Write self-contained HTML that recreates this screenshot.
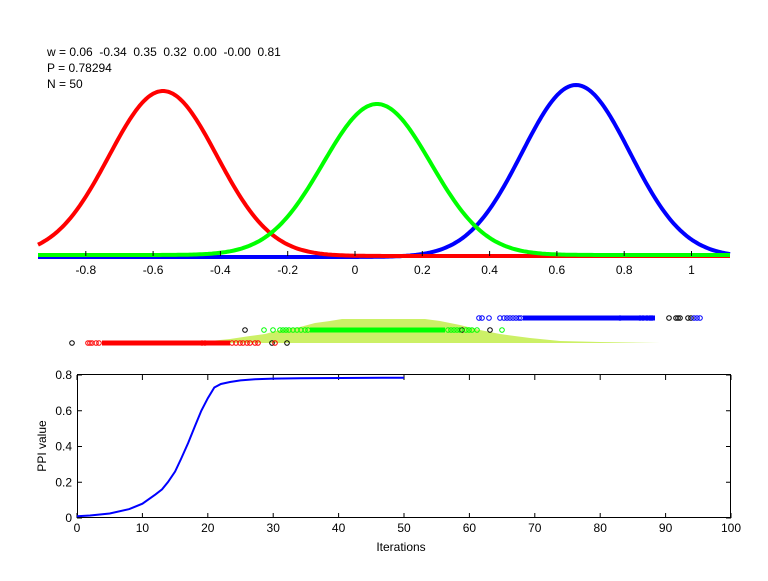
<!DOCTYPE html>
<html><head><meta charset="utf-8"><style>
body{margin:0;background:#fff;width:768px;height:576px;overflow:hidden}
svg text{font-family:"Liberation Sans",sans-serif;font-size:12px;fill:#000;white-space:pre}
</style></head><body>
<svg id="s" width="768" height="576" xmlns="http://www.w3.org/2000/svg">
<rect width="768" height="576" fill="#fff"/>
<text x="47" y="56">w = 0.06  -0.34  0.35  0.32  0.00  -0.00  0.81</text>
<text x="47" y="72">P = 0.78294</text>
<text x="47" y="88">N = 50</text>
<g id="topg"></g>
<g id="ticks" stroke="#000" stroke-width="1"></g>
<g id="tl" text-anchor="middle"></g>
<polygon fill="#ccf066" points="197,343 210,341 230,339 250,336 265,334 280,330 300,327 315,323 330,321 342,319 425,319 440,321 460,325 480,330 500,334 530,338 560,341 600,342 660,343"/>
<g id="sc" fill="none" stroke-width="1"></g>
<rect x="77.5" y="374.5" width="653" height="143" fill="none" stroke="#000"/>
<g id="bt"></g>
<polyline fill="none" stroke="#0000ff" stroke-width="2" points="77,516.2 90,515.5 109.7,513.5 129.3,509.1 142.4,503.7 155.5,494.4 162,489.4 168,482 175.1,471.5 181,459 188.2,442.9 195,426 201.3,410.8 207.8,398.2 214.3,387.5 220.9,384 230,382 240.5,380.4 255,379.3 273.2,378.6 300,378.2 404,377.7"/>
<text x="401" y="551" text-anchor="middle">Iterations</text>
<text transform="translate(46,446) rotate(-90)" text-anchor="middle">PPI value</text>
</svg>
<script>
(function(){
var NS="http://www.w3.org/2000/svg";
function el(p,t,a,txt){var e=document.createElementNS(NS,t);for(var k in a)e.setAttribute(k,a[k]);if(txt!=null)e.textContent=txt;p.appendChild(e);return e;}
var tg=document.getElementById('topg');
var sig=54;
[["#0000ff",576,172,257],["#ff0000",163,165,256],["#00ff00",377,151,255]].forEach(function(g){
 var base=g[3];
 var pts=[];for(var x=38;x<=731;x+=2){var y=base-g[2]*Math.exp(-Math.pow(x-g[1],2)/(2*sig*sig));pts.push(x+","+y.toFixed(1));}
 el(tg,'polyline',{points:pts.join(' '),fill:'none',stroke:g[0],'stroke-width':4,'stroke-linejoin':'round'});
});
var tk=document.getElementById('ticks'),tl=document.getElementById('tl');
[-0.8,-0.6,-0.4,-0.2,0,0.2,0.4,0.6,0.8,1].forEach(function(v){var x=355+v*336.5;el(tk,'line',{x1:x,x2:x,y1:251,y2:256});el(tl,'text',{x:x,y:274},(v==0?"0":(Math.round(v*10)/10).toString()));});
var bt=document.getElementById('bt');
for(var i=0;i<=10;i++){var x=77+i*65.4;el(bt,'line',{x1:x,x2:x,y1:518,y2:513,stroke:'#000'});el(bt,'line',{x1:x,x2:x,y1:375,y2:380,stroke:'#000'});el(bt,'text',{x:x,y:532,'text-anchor':'middle'},String(i*10));}
for(var j=0;j<=4;j++){var y=518-j*35.75;el(bt,'line',{x1:77,x2:82,y1:y,y2:y,stroke:'#000'});el(bt,'line',{x1:731,x2:726,y1:y,y2:y,stroke:'#000'});el(bt,'text',{x:72,y:y+4,'text-anchor':'end'},j==0?"0":(j*0.2).toFixed(1));}
var sc=document.getElementById('sc');
function c(x,y,col){el(sc,'circle',{cx:x,cy:y,r:2.3,stroke:col});}
function seg(x1,x2,y,col){el(sc,'rect',{x:x1,y:y-2.5,width:x2-x1,height:5,fill:col,stroke:'none'});}
c(72,343,'#000');c(272,343,'#000');c(287,343,'#000');
c(245,330,'#000');c(462,330,'#000');c(490,330,'#000');
[669,676,678,680,688,691].forEach(function(x){c(x,318,'#000');});
seg(102,230,343,'#ff0000');
[88,90,92,96,99,202,205,232,236,240,243,247,250,255,258,275].forEach(function(x){c(x,343,'#ff0000');});
seg(310,445,330,'#00ff00');
[264,273,280,283,286,289,293,297,301,305,308,448,451,454,457,460,466,469,472,477,502].forEach(function(x){c(x,330,'#00ff00');});
seg(523,655,318,'#0000ff');
[479,482,489,500,504,507,510,513,516,519,521,620,640,643,647,650,652,694,697,700].forEach(function(x){c(x,318,'#0000ff');});
})();
</script>
</body></html>
